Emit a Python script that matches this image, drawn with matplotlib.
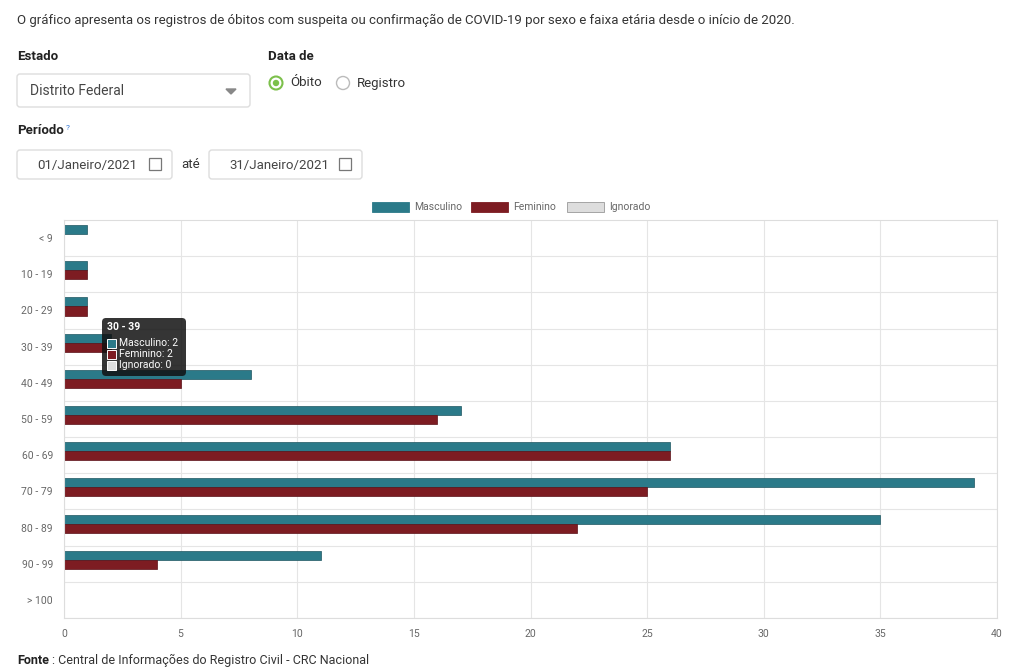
import matplotlib
matplotlib.use("Agg")
import matplotlib.pyplot as plt
from matplotlib.patches import FancyBboxPatch, Rectangle, Circle

faixas = ["< 9", "10 - 19", "20 - 29", "30 - 39", "40 - 49", "50 - 59",
          "60 - 69", "70 - 79", "80 - 89", "90 - 99", "> 100"]
masculino = [1, 1, 1, 2, 8, 17, 26, 39, 35, 11, 0]
feminino = [0, 1, 1, 2, 5, 16, 26, 25, 22, 4, 0]
ignorado = [0, 0, 0, 0, 0, 0, 0, 0, 0, 0, 0]

c_masc = "#2b7a89"
c_fem = "#7d1c22"
c_ign = "#dddddd"
plt.rcParams["font.family"] = "Roboto"

fig = plt.figure(figsize=(10.24, 6.72), dpi=100)


def pixel_axes(z):
    a = fig.add_axes([0, 0, 1, 1], zorder=z)
    a.set_xlim(0, 1024)
    a.set_ylim(672, 0)
    a.axis("off")
    a.patch.set_alpha(0)
    return a


# page overlay in pixel coords
ui = pixel_axes(0)
ui.text(17, 20, "O gráfico apresenta os registros de óbitos com suspeita ou confirmação de COVID-19 por sexo e faixa etária desde o início de 2020.",
        fontsize=9.5, color="#333333", va="center")
ui.text(17, 56, "Estado", fontsize=9.5, weight="bold", color="#222222", va="center")
ui.add_patch(FancyBboxPatch((17, 74), 233, 33, boxstyle="round,pad=0,rounding_size=3",
                            fc="white", ec="#dddddd", lw=1))
ui.text(30, 91, "Distrito Federal", fontsize=10, color="#444444", va="center")
ui.fill([226, 236, 231], [89, 89, 94], color="#888888")
ui.text(268, 56, "Data de", fontsize=9.5, weight="bold", color="#222222", va="center")
ui.add_patch(Circle((276, 83), 6.5, fc="white", ec="#7cc04b", lw=1.5))
ui.add_patch(Circle((276, 83), 3.2, fc="#7cc04b", ec="none"))
ui.text(290, 83, "Óbito", fontsize=9.5, color="#333333", va="center")
ui.add_patch(Circle((343, 83), 6.5, fc="white", ec="#bbbbbb", lw=1))
ui.text(357, 83, "Registro", fontsize=9.5, color="#333333", va="center")
ui.text(17, 131, "Período", fontsize=9.5, weight="bold", color="#222222", va="center")
ui.text(66, 128, "?", fontsize=6, color="#3a7bd5", va="center")
for x0, w, label in [(17, 155, "01/Janeiro/2021"), (209, 153, "31/Janeiro/2021")]:
    ui.add_patch(FancyBboxPatch((x0, 150), w, 29, boxstyle="round,pad=0,rounding_size=3",
                                fc="white", ec="#dddddd", lw=1))
    ui.text(x0 + 20, 165, label, fontsize=9.5, color="#444444", va="center")
    ui.add_patch(Rectangle((x0 + w - 23, 158), 12, 12, fc="none", ec="#777777", lw=0.9))
ui.text(181, 165, "até", fontsize=9.5, color="#333333", va="center")
ui.text(17, 660, "Fonte", fontsize=9, weight="bold", color="#222222", va="center")
ui.text(52, 660, ": Central de Informações do Registro Civil - CRC Nacional", fontsize=9, color="#333333", va="center")

# legend
for x0, c, label in [(372, c_masc, "Masculino"), (471, c_fem, "Feminino"), (567, c_ign, "Ignorado")]:
    ui.add_patch(Rectangle((x0, 202), 37, 10, fc=c, ec="#999999" if c == c_ign else c, lw=0.6))
    ui.text(x0 + 42, 207, label, fontsize=7.5, color="#666666", va="center")

ax = fig.add_axes([64 / 1024, 1 - 618 / 672, 933 / 1024, 398 / 672], zorder=1)
y = list(range(len(faixas)))
h = 0.25
off = 0.11
ax.barh([v - h / 2 - off for v in y], masculino, height=h, color=c_masc, edgecolor="#1d5560", lw=0.5)
ax.barh([v + h / 2 - off for v in y], feminino, height=h, color=c_fem, edgecolor="#5a1016", lw=0.5)
ax.barh([v + h * 1.5 - off for v in y], ignorado, height=h, color=c_ign)
ax.set_ylim(len(faixas) - 0.5, -0.5)
ax.set_xlim(0, 40)
ax.set_xticks(range(0, 41, 5))
ax.set_yticks(y)
ax.set_yticklabels(faixas)
ax.set_yticks([v + 0.5 for v in y], minor=True)
ax.grid(True, axis="x", color="#e5e5e5", lw=0.8)
ax.grid(True, axis="y", which="minor", color="#e5e5e5", lw=0.8)
ax.tick_params(axis="both", which="major", labelsize=7.5, colors="#666666", length=0, pad=8)
ax.tick_params(axis="y", which="minor", length=0)
ax.set_axisbelow(True)
for s in ax.spines.values():
    s.set_color("#dddddd")

# tooltip on top
tip = pixel_axes(2)
tip.add_patch(FancyBboxPatch((102, 318), 84, 58, boxstyle="round,pad=0,rounding_size=4",
                             fc="#111111", ec="none", alpha=0.85))
tip.text(107, 327, "30 - 39", fontsize=7.5, weight="bold", color="white", va="center")
for i, (c, label) in enumerate([(c_masc, "Masculino: 2"), (c_fem, "Feminino: 2"), (c_ign, "Ignorado: 0")]):
    yy = 343 + i * 11
    tip.add_patch(Rectangle((107, yy - 4), 9, 9, fc=c, ec="white", lw=0.7))
    tip.text(119, yy, label, fontsize=7.5, color="white", va="center")

fig.savefig("out.png", dpi=100)
